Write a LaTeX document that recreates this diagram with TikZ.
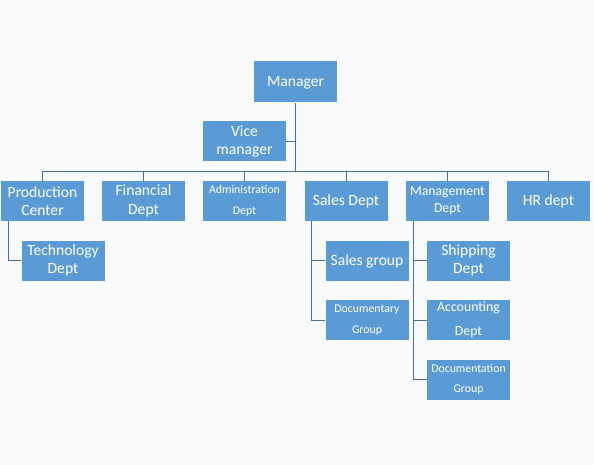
\documentclass[tikz,border=0pt]{standalone}
\usepackage{fontspec}
\setmainfont{Carlito}
\definecolor{bg}{HTML}{F8FAFC}
\definecolor{boxfill}{HTML}{5B9BD5}
\definecolor{linec}{HTML}{41719C}
\begin{document}
\begin{tikzpicture}[x=1pt,y=-1pt,
  box/.style={fill=boxfill, draw=none, text=white, align=center, inner sep=0pt,
    minimum width=83pt, minimum height=40pt, font=\fontsize{15.6}{18.6}\selectfont},
  oneline/.style={text height=12pt, text depth=2pt},
  smalltxt/.style={font=\fontsize{11.8}{21}\selectfont},
  midtxt/.style={font=\fontsize{13.7}{16.7}\selectfont},
  link/.style={draw=linec, line width=0.9pt}]
\fill[bg] (0,0) rectangle (594,465);
\useasboundingbox (0,0) rectangle (594,465);
\node[box, oneline, minimum height=41pt] (man) at (295.5,82) {Manager};
\node[box] (vice) at (244.5,141.5) {Vice\\manager};
\node[box] (prod) at (42.5,201) {Production\\Center};
\node[box] (fin) at (143.5,201) {Financial\\Dept};
\node[box, smalltxt] (adm) at (244.5,201) {Administration\\Dept};
\node[box, oneline] (sales) at (346,201) {Sales Dept};
\node[box, midtxt] (mgmt) at (447.5,201) {Management\\Dept};
\node[box, oneline] (hr) at (548.5,201) {HR dept};
\node[box] (tech) at (63,260.5) {Technology\\Dept};
\node[box, oneline] (sgrp) at (367,260.5) {Sales group};
\node[box, smalltxt] (docu) at (367,320) {Documentary\\Group};
\node[box] (ship) at (468.5,260.5) {Shipping\\Dept};
\node[box, font=\fontsize{13.8}{24.5}\selectfont] (acc) at (468.5,320) {Accounting\\Dept};
\node[box, smalltxt, font=\fontsize{11.8}{20}\selectfont] (docn) at (468.5,379.5) {Documentation\\Group};
\coordinate (bar) at (0,171);
\draw[link] (man.south) -- (man.south |- bar);
\draw[link] (vice.east) -- (vice.east -| man.south);
\draw[link] (prod.north |- bar) -- (hr.north |- bar);
\foreach \n in {prod,fin,adm,sales,mgmt,hr}
  \draw[link] (\n.north) -- (\n.north |- bar);
\draw[link] ([xshift=7.5pt]prod.south west) |- (tech.west);
\draw[link] ([xshift=7.5pt]sales.south west) |- (docu.west);
\draw[link] ([xshift=7.5pt]sales.south west) |- (sgrp.west);
\draw[link] ([xshift=7.5pt]mgmt.south west) |- (docn.west);
\draw[link] ([xshift=7.5pt]mgmt.south west) |- (acc.west);
\draw[link] ([xshift=7.5pt]mgmt.south west) |- (ship.west);
\end{tikzpicture}
\end{document}
